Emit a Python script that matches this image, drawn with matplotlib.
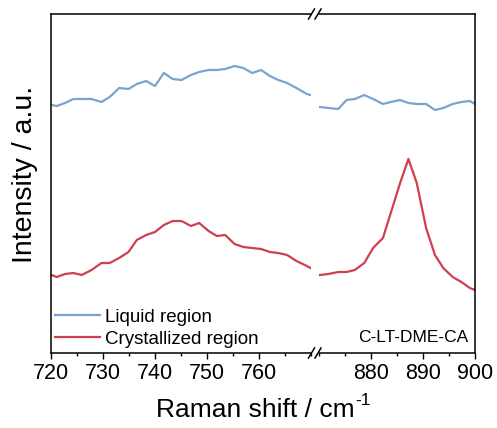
import matplotlib
matplotlib.use("Agg")
import matplotlib.pyplot as plt
from matplotlib.lines import Line2D
from matplotlib.ticker import MultipleLocator

plt.rcParams['font.family'] = ['Liberation Sans', 'DejaVu Sans']

# left window (720-770 cm-1)
x_left = [720.1, 721.1, 722.7, 724.3, 725.9, 727.8, 729.7, 731.3, 733.1, 734.9,
          736.5, 738.3, 740.0, 741.7, 743.4, 745.1, 746.9, 748.5, 750.3, 751.9,
          753.5, 755.3, 757.0, 758.7, 760.4, 762.1, 763.7, 765.4, 767.2, 769.2, 769.9]
liquid_left = [2.48, 2.47, 2.50, 2.54, 2.54, 2.54, 2.51, 2.56, 2.65, 2.64,
               2.69, 2.72, 2.67, 2.80, 2.74, 2.73, 2.78, 2.81, 2.83, 2.83,
               2.84, 2.87, 2.85, 2.80, 2.83, 2.77, 2.73, 2.70, 2.65, 2.59, 2.58]
cryst_left = [0.78, 0.76, 0.79, 0.80, 0.78, 0.83, 0.90, 0.90, 0.95, 1.01,
              1.13, 1.18, 1.21, 1.28, 1.32, 1.32, 1.27, 1.30, 1.22, 1.17,
              1.18, 1.09, 1.06, 1.05, 1.04, 1.01, 1.00, 0.98, 0.92, 0.87, 0.85]

# right window (870-900 cm-1)
x_right = [870.2, 871.8, 873.7, 875.3, 876.9, 878.7, 880.4, 882.3, 883.8, 885.6,
           887.2, 888.8, 890.6, 892.3, 893.9, 895.7, 897.4, 899.0, 900.0]
liquid_right = [2.46, 2.45, 2.44, 2.53, 2.54, 2.58, 2.54, 2.49, 2.51, 2.53,
                2.50, 2.49, 2.49, 2.43, 2.45, 2.49, 2.51, 2.52, 2.49]
cryst_right = [0.78, 0.79, 0.81, 0.81, 0.83, 0.90, 1.05, 1.15, 1.40, 1.70,
               1.94, 1.70, 1.25, 0.98, 0.85, 0.76, 0.71, 0.65, 0.63]

left_ticks = [720, 730, 740, 750, 760]
right_ticks = [880, 890, 900]

blue = '#7ba3d0'
red = '#d03f50'
W, H = 497, 428

fig = plt.figure(figsize=(W / 100, H / 100), dpi=100)
bottom = 1 - 353 / H
height = (353 - 14) / H
ax1 = fig.add_axes([51 / W, bottom, 260 / W, height])
ax2 = fig.add_axes([319 / W, bottom, 156 / W, height])

ax1.plot(x_left, liquid_left, color=blue, lw=1.6, label='Liquid region')
ax1.plot(x_left, cryst_left, color=red, lw=1.6, label='Crystallized region')
ax2.plot(x_right, liquid_right, color=blue, lw=1.6)
ax2.plot(x_right, cryst_right, color=red, lw=1.6)

ax1.set_xlim(720, 770)
ax2.set_xlim(870, 900)
for ax in (ax1, ax2):
    ax.set_ylim(0, 3.39)
    ax.set_yticks([])
    ax.xaxis.set_minor_locator(MultipleLocator(5))
    ax.tick_params(axis='x', which='major', direction='out', length=4.5,
                   width=1, labelsize=15.5, pad=3, top=False)
    ax.tick_params(axis='x', which='minor', direction='out', length=2.3,
                   width=1, top=False)
    for s in ax.spines.values():
        s.set_linewidth(1.1)
ax1.set_xticks(left_ticks)
ax2.set_xticks(right_ticks)
ax1.spines['right'].set_visible(False)
ax2.spines['left'].set_visible(False)

fig.text(25 / W, 1 - 174 / H, 'Intensity / a.u.', rotation=90,
         fontsize=20.5, ha='center', va='center')
xl = fig.text(255 / W, 1 - 417 / H, 'Raman shift / cm',
              fontsize=19, ha='center', va='baseline')
# superscript with a plain hyphen, placed right after "cm"
ax1.annotate('-1', xy=(1.0, 1.22), xycoords=xl, xytext=(1, 0),
             textcoords='offset points', fontsize=12.5, ha='left', va='top')

ax1.legend(loc='lower left', bbox_to_anchor=(0.0, 0.005), frameon=False,
           fontsize=13.5, handlelength=2.4, handletextpad=0.3,
           labelspacing=0.25, borderpad=0.2, borderaxespad=0)
ax2.text(0.96, 0.025, 'C-LT-DME-CA', transform=ax2.transAxes,
         fontsize=12.5, ha='right', va='bottom')

# break marks on top and bottom axis lines
gap = 0.5 * (311 + 319)
for yb in (353, 14):
    for dx in (-3.5, 3.0):
        xc = gap + dx
        fig.add_artist(Line2D([(xc - 3) / W, (xc + 3) / W],
                              [1 - (yb + 5) / H, 1 - (yb - 5) / H],
                              color='black', lw=1.1))

fig.savefig('out.png', dpi=100)
